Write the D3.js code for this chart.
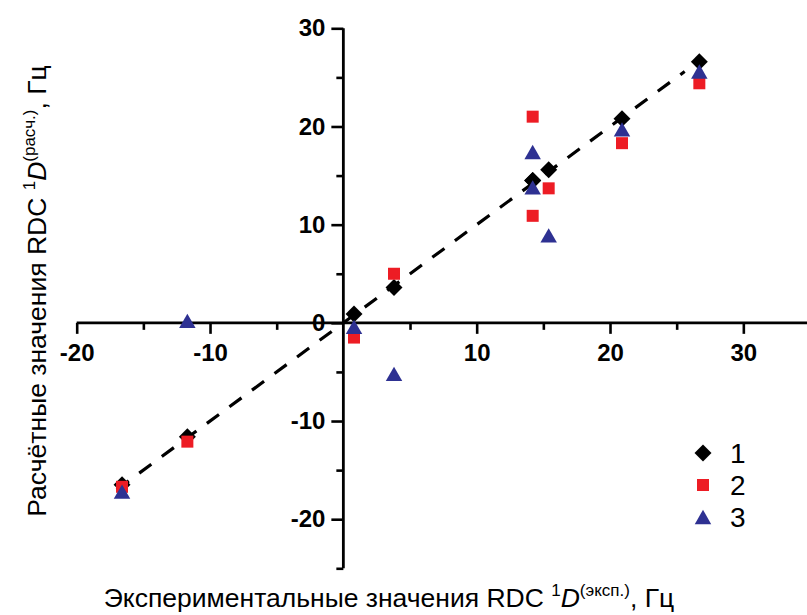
<!DOCTYPE html>
<html>
<head>
<meta charset="utf-8">
<script src="https://cdn.jsdelivr.net/npm/d3@7"></script>
<style>
  html, body { margin: 0; padding: 0; background: #fff; }
  svg { display: block; font-family: "Liberation Sans", Arial, sans-serif; }
</style>
</head>
<body>
<svg id="chart" width="807" height="615"></svg>
<script>
// Experimental RDC values (x) and calculated values for the three models (y)
const expValues = [-16.6, -11.7, 0.8, 3.8, 14.2, 14.2, 15.4, 20.9, 26.7];
const calc1 = [-16.5, -11.6, 0.9, 3.6, 14.5, 14.5, 15.6, 20.8, 26.6];
const calc2 = [-16.7, -12.1, -1.5, 5.0, 21.0, 10.9, 13.7, 18.3, 24.4];
const calc3 = [-17.2, 0.2, -0.4, -5.2, 13.8, 17.4, 8.9, 19.7, 25.6];
const seriesNames = ["1", "2", "3"];

// Reference line y = x
const diagLine = [-17, 25.6];

// Axis ticks
const xMajor = [-20, -10, 10, 20, 30];
const xMinor = [-15, -5, 5, 15, 25, 35];
const yMajor = [-20, -10, 0, 10, 20, 30];
const yMinor = [-25, -15, -5, 5, 15, 25];

const svg = d3.select("#chart");

const x = d3.scaleLinear().domain([-20, 35]).range([76.7, 810]);
const y = d3.scaleLinear().domain([-25, 30]).range([568.3, 28.3]);

const colors = ["#000000", "#ed1c24", "#2e3192"];

// Marker shapes: diamond, square, triangle (triangle centred on its bounding box)
const diamondType = {
  draw(ctx, size) {
    const r = Math.sqrt(size) / 2 * Math.SQRT2;
    ctx.moveTo(0, -r); ctx.lineTo(r, 0); ctx.lineTo(0, r); ctx.lineTo(-r, 0); ctx.closePath();
  }
};
const squareType = {
  draw(ctx, size) {
    const h = Math.sqrt(size) / 2;
    ctx.moveTo(-h, -h); ctx.lineTo(h, -h); ctx.lineTo(h, h); ctx.lineTo(-h, h); ctx.closePath();
  }
};
const triangleType = {
  draw(ctx, size) {
    const w = Math.sqrt(size);      // base width
    const hh = w * 0.866 / 2;       // half height
    ctx.moveTo(0, -hh); ctx.lineTo(w / 2, hh); ctx.lineTo(-w / 2, hh); ctx.closePath();
  }
};
const shapes = [
  d3.symbol().type(diamondType).size(144),
  d3.symbol().type(squareType).size(144),
  d3.symbol().type(triangleType).size(272)
];

// Diagonal dashed line
svg.append("line")
  .attr("x1", x(diagLine[0])).attr("y1", y(diagLine[0]))
  .attr("x2", x(diagLine[1])).attr("y2", y(diagLine[1]))
  .attr("stroke", "#000").attr("stroke-width", 3.2)
  .attr("stroke-dasharray", "15,13");

// Axes crossing at the origin
function styleAxis(g) {
  g.select(".domain").attr("stroke", "#000").attr("stroke-width", 2.8);
  g.selectAll(".tick line").attr("stroke", "#000").attr("stroke-width", 2.6);
  g.selectAll(".tick text")
    .attr("fill", "#000")
    .style("font-size", "24px")
    .style("font-weight", "bold")
    .style("font-family", "'Liberation Sans', Arial, sans-serif");
}

const xAxisG = svg.append("g").attr("transform", `translate(0,${y(0)})`);
xAxisG.append("g")
  .call(d3.axisBottom(x).tickValues(xMinor).tickSize(7).tickFormat(""))
  .call(styleAxis);
xAxisG.append("g")
  .call(d3.axisBottom(x).tickValues(xMajor).tickSize(11).tickSizeOuter(0).tickPadding(10).tickFormat(d3.format("d")))
  .call(styleAxis)
  .call(g => g.select(".domain").remove());
xAxisG.select("g .domain").attr("d", `M${x(-20)},0H807`);

const yAxisG = svg.append("g").attr("transform", `translate(${x(0)},0)`);
yAxisG.append("g")
  .call(d3.axisLeft(y).tickValues(yMinor).tickSize(7).tickSizeOuter(0).tickFormat(""))
  .call(styleAxis);
yAxisG.append("g")
  .call(d3.axisLeft(y).tickValues(yMajor).tickSize(12).tickSizeOuter(0).tickPadding(6).tickFormat(d3.format("d")))
  .call(styleAxis)
  .call(g => g.select(".domain").remove());
yAxisG.select("g .domain").attr("d", `M0,${y(-25)}V${y(30)}`);

// Minus signs rendered as hyphens
svg.selectAll(".tick text").text(function() { return d3.select(this).text().replace("\u2212", "-"); });

// Points
const allSeries = [calc1, calc2, calc3];
allSeries.forEach((vals, i) => {
  svg.append("g").selectAll("path")
    .data(vals.map((v, j) => [expValues[j], v]))
    .join("path")
    .attr("transform", d => `translate(${x(d[0])},${y(d[1])})`)
    .attr("d", shapes[i]())
    .attr("fill", colors[i]);
});

// Legend
const legend = svg.append("g").attr("transform", "translate(703,453)");
seriesNames.forEach((name, i) => {
  const row = legend.append("g").attr("transform", `translate(0,${i * 32})`);
  row.append("path").attr("d", shapes[i]()).attr("fill", colors[i]);
  row.append("text").attr("x", 27).attr("y", 10)
    .style("font-size", "28px").attr("fill", "#000").text(name);
});

// Axis titles with superscripts
function axisTitle(sel, before, sup) {
  sel.append("tspan").text(before);
  sel.append("tspan").attr("dy", -11).style("font-size", "17px").text("1");
  sel.append("tspan").attr("dy", 11).style("font-style", "italic").text("D");
  sel.append("tspan").attr("dy", -11).style("font-size", "17px").text(sup);
  sel.append("tspan").attr("dy", 11).text(", Гц");
}

svg.append("text")
  .attr("x", 389).attr("y", 607)
  .attr("text-anchor", "middle")
  .style("font-size", "26.5px").attr("fill", "#000")
  .call(axisTitle, "Экспериментальные значения RDC ", "(эксп.)");

svg.append("text")
  .attr("transform", "translate(46,291) rotate(-90)")
  .attr("text-anchor", "middle")
  .style("font-size", "26.5px").attr("fill", "#000")
  .call(axisTitle, "Расчётные значения RDC ", "(расч.)");
</script>
</body>
</html>
